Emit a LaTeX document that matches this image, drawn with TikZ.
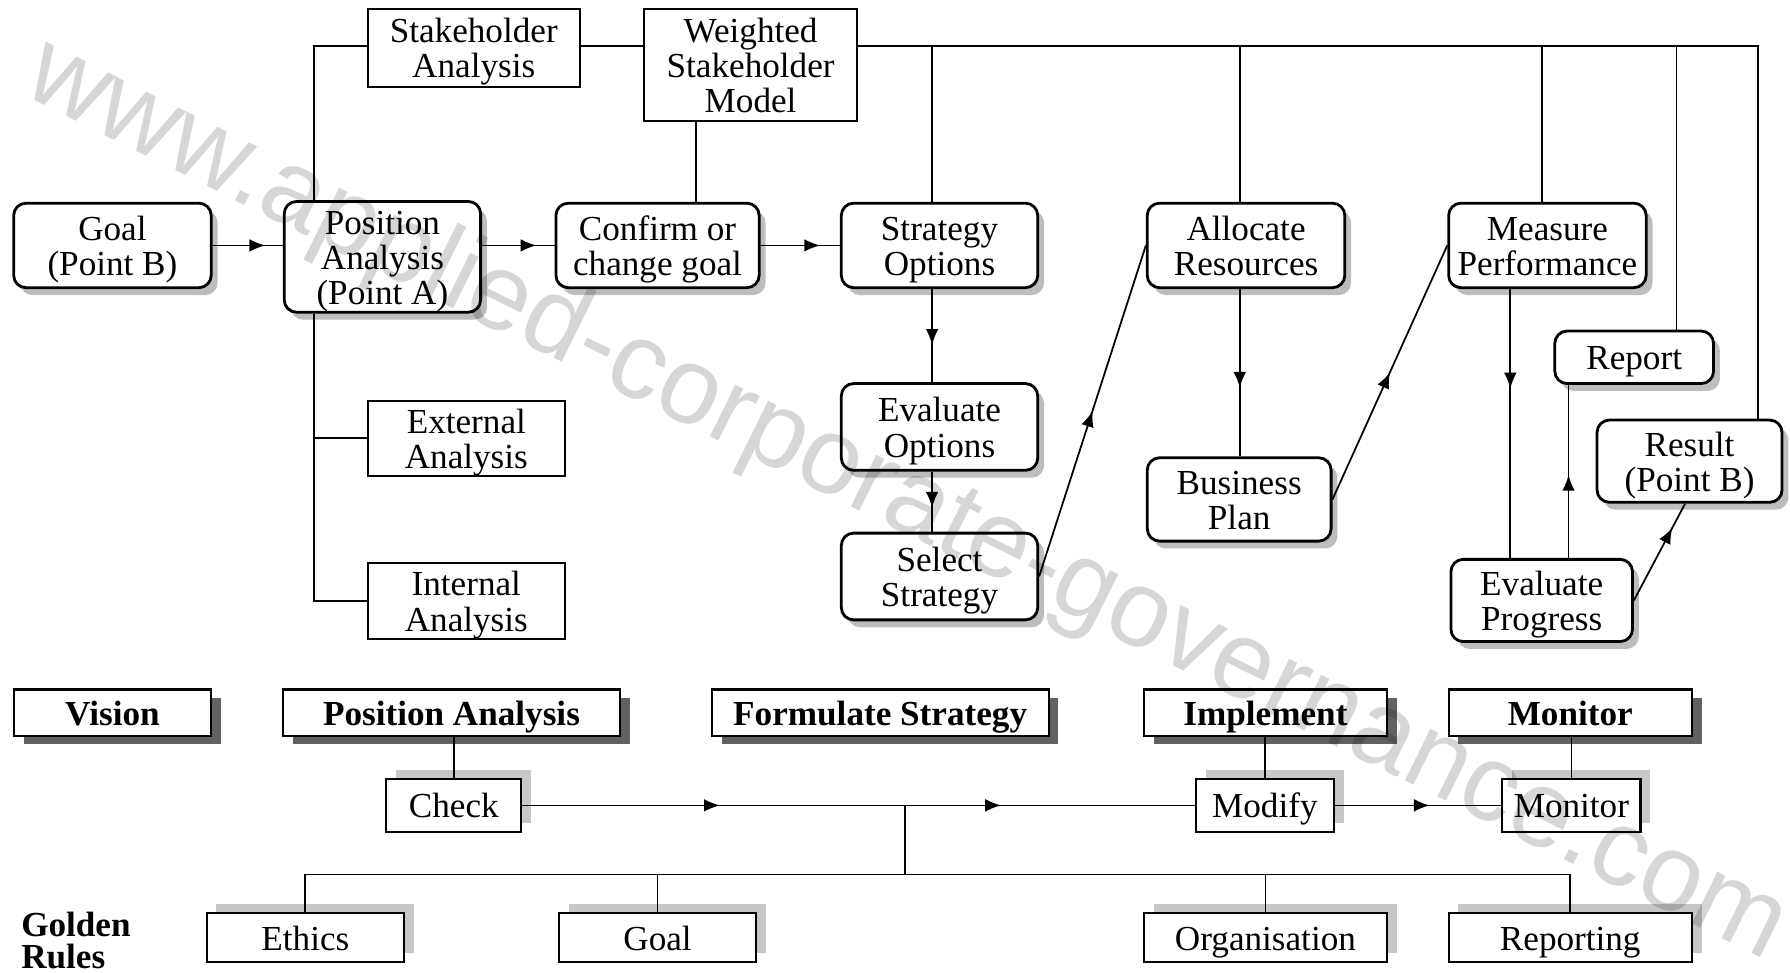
\documentclass[tikz,border=0pt]{standalone}
\usepackage{fontspec}
\setmainfont{Liberation Serif}
\newfontfamily\wmfont{Liberation Sans}
\usepackage{tikz}
\usetikzlibrary{arrows.meta,shadows,decorations.markings}
\newcommand{\boxtop}{\rule{0pt}{9.3pt}}

\begin{document}
\begin{tikzpicture}[
    x=0.011416cm, y=-0.011416cm,
    >={Latex[length=4.5pt,width=3.6pt]},
    wh/.style 2 args={minimum width=#1*0.3248pt, minimum height=#2*0.3248pt},
    evenbox/.style={execute at begin node={\rule{0pt}{9.3pt}}, execute at end node={\rule[-2.2pt]{0pt}{2.2pt}}},
    basebox/.style={rectangle, draw, fill=white, align=center, inner sep=0pt, font=\fontsize{10}{10}\selectfont, evenbox},
    rbox/.style={basebox, line width=0.8pt, rounded corners=3.5pt, drop shadow={shadow xshift=1.8pt, shadow yshift=-2.1pt, fill=black!26, opacity=1}},
    sbox/.style={basebox, line width=0.6pt},
    phasebox/.style={basebox, line width=0.6pt, font=\fontsize{10}{10}\selectfont\bfseries, drop shadow={shadow xshift=2.8pt, shadow yshift=-2.3pt, fill=black!62, opacity=1}},
    rulebox/.style={basebox, line width=0.6pt, drop shadow={shadow xshift=2.8pt, shadow yshift=2.6pt, fill=black!22, opacity=1}},
    conn/.style={line width=0.5pt},
    midarrow/.style={conn, postaction={decorate}, decoration={markings, mark=at position #1 with {\arrow{>}}}}
]
    \useasboundingbox (0,0) rectangle (1568,852);

    % Stakeholder boxes
    \node[sbox, wh={186}{68}] (sa) at (415,42) {\boxtop Stakeholder\\Analysis};
    \node[sbox, wh={187}{98}] (wsm) at (657.5,57) {\boxtop Weighted\\Stakeholder\\Model};

    % Process boxes
    \node[rbox, wh={173}{74}] (goal) at (98.5,215) {\boxtop Goal\\(Point B)};
    \node[rbox, wh={172}{94}] (pos) at (335,225) {\boxtop Position\\Analysis\\(Point A)};
    \node[rbox, wh={178}{74}] (conf) at (576,215) {\boxtop Confirm or\\change goal};
    \node[rbox, wh={172}{74}] (sopt) at (823,215) {\boxtop Strategy\\Options};
    \node[rbox, wh={173}{74}] (alloc) at (1091.5,215) {\boxtop Allocate\\Resources};
    \node[rbox, wh={173}{74}] (meas) at (1355.5,215) {\boxtop Measure\\Performance};
    \node[sbox, wh={173}{66}] (ext) at (408.5,384) {\boxtop External\\Analysis};
    \node[sbox, wh={173}{65}] (int) at (408.5,526.5) {\boxtop Internal\\Analysis};
    \node[rbox, wh={172}{76}] (evopt) at (823,374) {\boxtop Evaluate\\Options};
    \node[rbox, wh={172}{76}] (sel) at (823,505) {\boxtop Select\\Strategy};
    \node[rbox, wh={161}{73}] (bplan) at (1085.5,437.5) {\boxtop Business\\Plan};
    \node[rbox, wh={139}{46}] (report) at (1431.5,313) {Report};
    \node[rbox, wh={162}{72}] (result) at (1480,404) {\boxtop Result\\(Point B)};
    \node[rbox, wh={159}{72}] (evprog) at (1350.5,526) {\boxtop Evaluate\\Progress};

    % Phase boxes
    \node[phasebox, wh={173}{41}] (vision) at (98.5,624.5) {Vision};
    \node[phasebox, wh={295}{41}] (pa) at (395.5,624.5) {Position Analysis};
    \node[phasebox, wh={295}{41}] (fs) at (771,624.5) {Formulate Strategy};
    \node[phasebox, wh={213}{41}] (impl) at (1108.5,624.5) {Implement};
    \node[phasebox, wh={213}{41}] (mon) at (1375.5,624.5) {Monitor};

    % Control boxes and golden rules
    \node[rulebox, wh={118}{46}] (check) at (397.5,705.5) {Check};
    \node[rulebox, wh={121}{46}] (modify) at (1108,705.5) {Modify};
    \node[rulebox, wh={121}{46}] (monit) at (1376.5,705.5) {Monitor};
    \node[rulebox, wh={173}{43}] (ethics) at (267.5,821.5) {Ethics};
    \node[rulebox, wh={173}{43}] (rgoal) at (576,821.5) {Goal};
    \node[rulebox, wh={213}{43}] (org) at (1108.5,821.5) {Organisation};
    \node[rulebox, wh={213}{43}] (rep) at (1375.5,821.5) {Reporting};
    \node[font=\fontsize{10}{9.3}\selectfont\bfseries, align=left, anchor=north west, inner sep=0pt] (golden) at (18,798) {Golden\\Rules};

    % Top bus
    \coordinate (bus) at (275,40);
    \coordinate (corner) at (1540,40);
    \coordinate (wc) at (610,40);
    \coordinate (mx) at (1323,0);
    \coordinate (rx) at (1374,0);
    \draw[conn] (pos.north -| bus) -- (bus) -- (sa.west |- bus);
    \draw[conn] (sa.east |- bus) -- (wsm.west |- bus);
    \draw[conn] (wsm.east |- bus) -- (corner) -- (corner |- result.north);
    \draw[conn] (wc |- wsm.south) -- (wc |- conf.north);
    \foreach \xx/\nn in {816.5/sopt, 1086/alloc, 1350.5/meas, 1468.5/report} {
        \coordinate (t\nn) at (\xx,40);
        \draw[conn] (t\nn) -- (t\nn |- \nn.north);
    }

    % Analysis branches
    \draw[conn] (pos.south -| bus) -- (bus |- int.west) -- (int.west);
    \draw[conn] (bus |- ext.west) -- (ext.west);

    % Arrows between steps
    \foreach \a/\b in {goal/pos, pos/conf, conf/sopt}
        \draw[midarrow=0.75] (\a.east |- goal.east) -- (\b.west |- goal.east);
    \draw[midarrow=0.6] (tsopt |- sopt.south) -- (tsopt |- evopt.north);
    \draw[midarrow=0.6] (tsopt |- evopt.south) -- (tsopt |- sel.north);
    \draw[midarrow=0.59] (talloc |- alloc.south) -- (talloc |- bplan.north);
    \draw[midarrow=0.37] (mx |- meas.south) -- (mx |- evprog.north);
    \draw[midarrow=0.48] (rx |- evprog.north) -- (rx |- report.south);
    \draw[midarrow=0.5] (sel.east) -- (alloc.west);
    \draw[midarrow=0.5] (bplan.east) -- (meas.west);
    \draw[midarrow=0.75] (evprog.east) -- (result.-96);

    % Phase links
    \draw[conn] (check.north) -- (check.north |- pa.south);
    \draw[conn] (modify.north) -- (modify.north |- impl.south);
    \draw[conn] (monit.north) -- (monit.north |- mon.south);
    \draw[conn, postaction={decorate}, decoration={markings, mark=at position 0.294 with {\arrow{>}}, mark=at position 0.712 with {\arrow{>}}}] (check.east) -- (modify.west);
    \draw[midarrow=0.57] (modify.east) -- (monit.west);

    % Golden rules bus
    \coordinate (jn) at (793,705.5);
    \coordinate (rb) at (793,766);
    \draw[conn] (jn) -- (rb);
    \draw[conn] (ethics.north |- rb) -- (rep.north |- rb);
    \foreach \nn in {ethics, rgoal, org, rep}
        \draw[conn] (\nn.north |- rb) -- (\nn.north);

    % Watermark
    \node[font=\wmfont\fontsize{31}{31}\selectfont, text=black, text opacity=0.16, rotate=-26.4, inner sep=0pt] (wm) at (794,440) {www.applied-corporate-governance.com};
\end{tikzpicture}
\end{document}
